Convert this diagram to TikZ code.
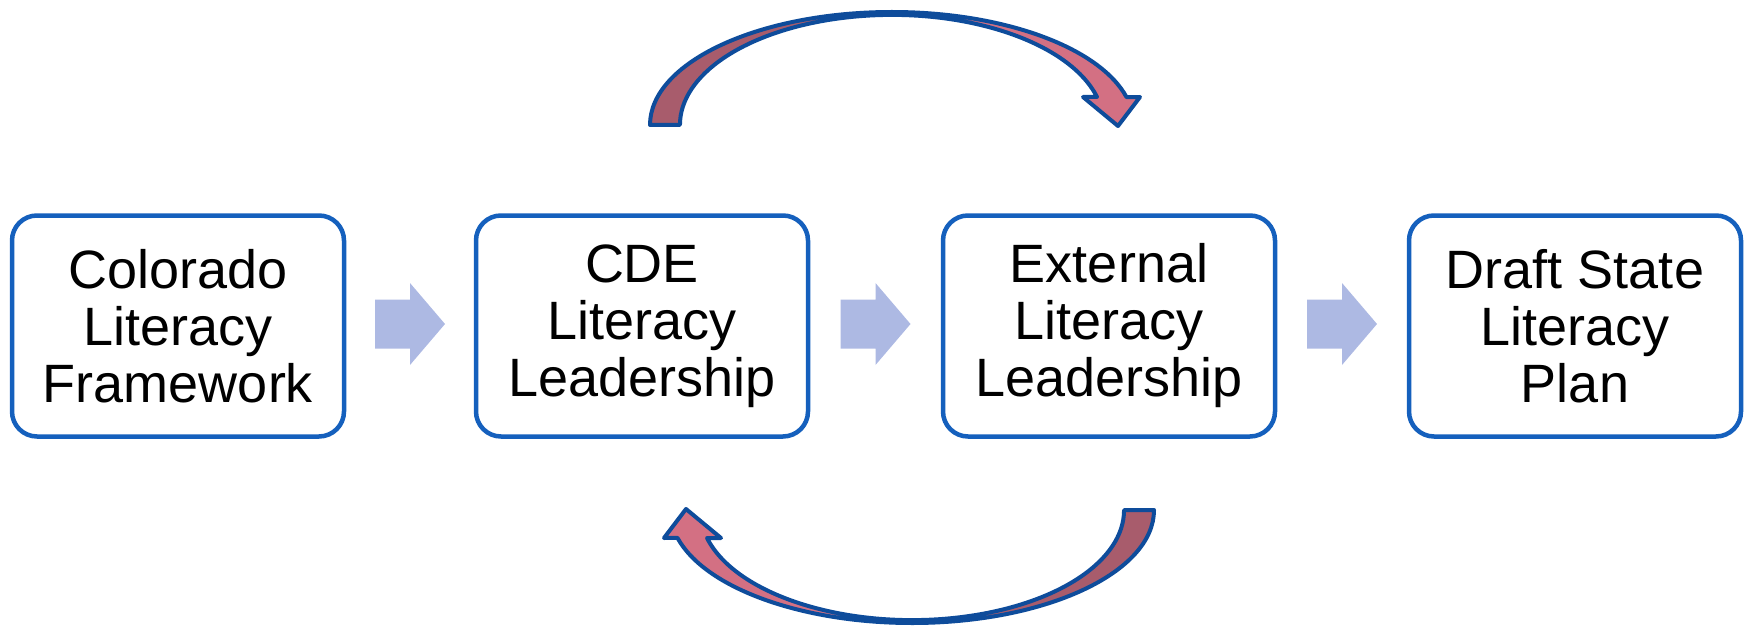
\documentclass[tikz,border=0pt]{standalone}
\usepackage{fontspec}
\setmainfont{Liberation Sans}
\usetikzlibrary{calc}
\definecolor{boxblue}{RGB}{21,96,189}
\definecolor{arrowblue}{RGB}{14,76,155}
\definecolor{lav}{RGB}{173,185,227}
\definecolor{darkrose}{RGB}{168,92,108}
\definecolor{lightrose}{RGB}{211,112,131}
\begin{document}
\begin{tikzpicture}[x=1pt,y=1pt,
  stepbox/.style={draw=boxblue, line width=4.5pt, rounded corners=25pt, fill=white,
    minimum width=332pt, minimum height=221pt, align=center, inner sep=0pt,
    font=\fontsize{54}{57}\selectfont},
  flowarrow/.style={fill=lav, draw=none},
  curvearrow/.style={draw=arrowblue, line width=4pt, line join=round}]
\useasboundingbox (0,0) rectangle (1747,625);

\node[stepbox] (b1) at (178,299) {Colorado\\Literacy\\Framework};
\node[stepbox] (b2) at (642,299) {CDE\\Literacy\\Leadership};
\node[stepbox] (b3) at (1109,299) {External\\Literacy\\Leadership};
\node[stepbox] (b4) at (1575,299) {Draft State\\Literacy\\Plan};

\foreach \a/\b/\m in {b1/b2/m1,b2/b3/m2,b3/b4/m3}{
  \coordinate (\m) at ($(\a.east)!0.5!(\b.west)+(0,2)$);
  \fill[flowarrow] ($(\m)+(-35,24.5)$) -- ($(\m)+(0,24.5)$) -- ($(\m)+(0,41)$)
     -- ($(\m)+(35,0)$) -- ($(\m)+(0,-41)$) -- ($(\m)+(0,-24.5)$)
     -- ($(\m)+(-35,-24.5)$) -- cycle;
}

% top curved arrow
\begin{scope}
\fill[darkrose] (650,500) arc[start angle=180,end angle=90,x radius=242,y radius=113]
  -- (892,610) arc[start angle=90,end angle=180,x radius=212,y radius=110] -- cycle;
\fill[lightrose] (892,613) arc[start angle=90,end angle=14.3,x radius=242,y radius=113]
  -- (1140,528) -- (1118,499) -- (1083,528) -- (1097,528)
  arc[start angle=14.7,end angle=90,x radius=212,y radius=110] -- cycle;
\draw[curvearrow] (650,500) arc[start angle=180,end angle=14.3,x radius=242,y radius=113]
  -- (1140,528) -- (1118,499) -- (1083,528) -- (1097,528)
  arc[start angle=14.7,end angle=180,x radius=212,y radius=110] -- cycle;
\end{scope}

% bottom curved arrow
\begin{scope}[rotate around={180:(902,307.5)}]
\fill[darkrose] (650,500) arc[start angle=180,end angle=90,x radius=242,y radius=113]
  -- (892,610) arc[start angle=90,end angle=180,x radius=212,y radius=110] -- cycle;
\fill[lightrose] (892,613) arc[start angle=90,end angle=14.3,x radius=242,y radius=113]
  -- (1140,528) -- (1118,499) -- (1083,528) -- (1097,528)
  arc[start angle=14.7,end angle=90,x radius=212,y radius=110] -- cycle;
\draw[curvearrow] (650,500) arc[start angle=180,end angle=14.3,x radius=242,y radius=113]
  -- (1140,528) -- (1118,499) -- (1083,528) -- (1097,528)
  arc[start angle=14.7,end angle=180,x radius=212,y radius=110] -- cycle;
\end{scope}
\end{tikzpicture}
\end{document}
